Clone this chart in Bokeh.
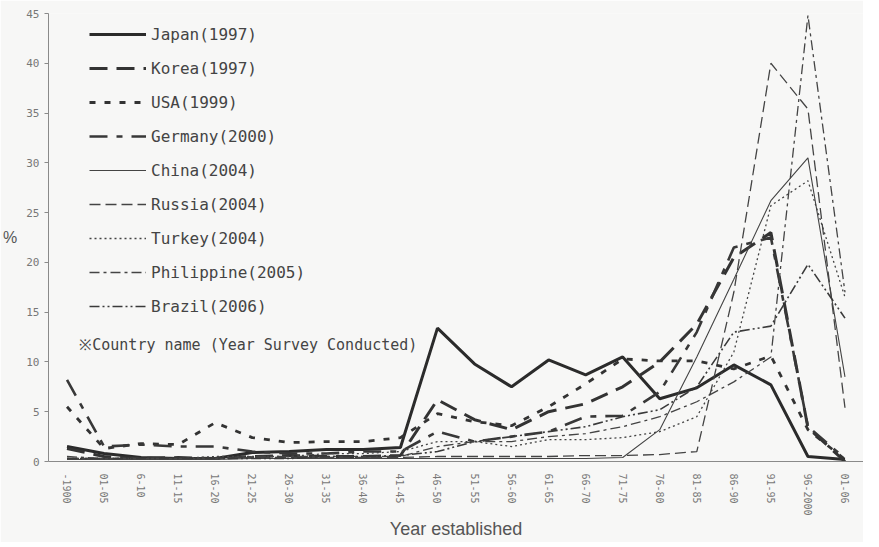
import math
from bokeh.plotting import figure
from bokeh.models import Range1d, Legend, LegendItem, Label
from bokeh.embed import file_html
from bokeh.resources import INLINE

categories = ["-1900", "01-05", "6-10", "11-15", "16-20", "21-25", "26-30", "31-35",
              "36-40", "41-45", "46-50", "51-55", "56-60", "61-65", "66-70", "71-75",
              "76-80", "81-85", "86-90", "91-95", "96-2000", "01-06"]

japan =      [1.5, 0.8, 0.4, 0.3, 0.3, 0.9, 1.0, 1.2, 1.2, 1.4, 13.4, 9.8, 7.5, 10.2, 8.7, 10.5, 6.3, 7.4, 9.7, 7.7, 0.5, 0.2]
korea =      [1.3, 0.5, 0.3, 0.4, 0.3, 0.5, 0.6, 0.5, 0.5, 0.6, 6.2, 4.2, 3.2, 5.0, 5.8, 7.5, 10.0, 13.8, 20.5, 23.0, 3.4, 0.0]
usa =        [5.5, 1.3, 1.8, 1.7, 3.9, 2.4, 1.9, 2.0, 2.0, 2.4, 4.8, 4.0, 3.6, 5.5, 7.8, 10.3, 10.1, 10.1, 9.3, 10.6, 3.2, 0.2]
germany =    [8.2, 1.5, 1.7, 1.5, 1.5, 1.0, 0.8, 0.8, 1.0, 1.0, 3.0, 2.0, 2.5, 3.0, 4.5, 4.6, 7.0, 13.0, 21.5, 22.5, 3.5, 0.3]
china =      [0.2, 0.2, 0.2, 0.2, 0.2, 0.3, 0.3, 0.3, 0.3, 0.3, 0.3, 0.3, 0.3, 0.3, 0.3, 0.4, 3.2, 10.5, 18.3, 26.2, 30.5, 8.5]
russia =     [0.3, 0.3, 0.3, 0.3, 0.3, 0.4, 0.4, 0.4, 0.4, 0.4, 0.5, 0.5, 0.5, 0.5, 0.6, 0.6, 0.7, 1.0, 17.0, 40.0, 35.4, 5.4]
turkey =     [0.3, 0.3, 0.3, 0.3, 0.5, 0.5, 0.5, 0.8, 0.8, 1.0, 2.0, 2.0, 1.5, 2.2, 2.2, 2.4, 3.0, 4.5, 11.0, 25.7, 28.2, 16.5]
philippine = [0.5, 0.3, 0.3, 0.3, 0.3, 0.5, 0.5, 0.5, 0.5, 0.5, 1.5, 2.0, 2.0, 2.5, 2.8, 3.5, 4.5, 6.0, 8.0, 10.5, 44.8, 17.0]
brazil =     [0.3, 0.3, 0.3, 0.3, 0.3, 0.3, 0.3, 0.5, 0.5, 0.6, 1.0, 2.0, 2.5, 3.0, 3.5, 4.5, 5.2, 7.5, 13.0, 13.6, 19.8, 14.4]

series_names = ["Japan(1997)", "Korea(1997)", "USA(1999)", "Germany(2000)", "China(2004)",
                "Russia(2004)", "Turkey(2004)", "Philippine(2005)", "Brazil(2006)"]
series_values = [japan, korea, usa, germany, china, russia, turkey, philippine, brazil]

styles = [
    dict(line_width=3.0, line_dash="solid", line_color="#2b2b2b"),
    dict(line_width=3.0, line_dash="18 9", line_color="#333333"),
    dict(line_width=2.8, line_dash="6 9", line_color="#333333"),
    dict(line_width=2.6, line_dash="18 9 6 9", line_color="#383838"),
    dict(line_width=1.1, line_dash="solid", line_color="#444444"),
    dict(line_width=1.3, line_dash="11 5", line_color="#444444"),
    dict(line_width=1.3, line_dash="2 3", line_color="#444444"),
    dict(line_width=1.3, line_dash="10 4 3 4", line_color="#444444"),
    dict(line_width=1.6, line_dash="10 3 2 3 2 3", line_color="#3a3a3a"),
]

mono = "DejaVu Sans Mono"
sans = "Liberation Sans"
bg = "#f7f7f6"

p = figure(x_range=categories, y_range=Range1d(0, 45), width=863, height=542,
           output_backend="svg", toolbar_location=None,
           min_border_left=39, min_border_top=13, min_border_bottom=81, min_border_right=0)
p.background_fill_color = bg
p.border_fill_color = bg
p.outline_line_color = None
p.xgrid.grid_line_color = None
p.ygrid.grid_line_color = None
p.x_range.range_padding = 0

items = []
for name, vals, st in zip(series_names, series_values, styles):
    r = p.line(categories, vals, **st)
    items.append(LegendItem(label=name, renderers=[r]))

legend = Legend(items=items, location=(41, 145), orientation="vertical")
legend.background_fill_alpha = 0
legend.border_line_color = None
legend.padding = 0
legend.margin = 0
legend.glyph_width = 57
legend.glyph_height = 20
legend.label_height = 20
legend.spacing = 14
legend.label_text_font = mono
legend.label_text_font_size = "16px"
legend.label_text_color = "#444444"
legend.label_standoff = 5
p.add_layout(legend)

note = Label(x=0.83, y=11.75, text="※Country name (Year Survey Conducted)",
             text_font=mono, text_font_size="15px", text_color="#444444",
             text_baseline="middle")
p.add_layout(note)

# y axis
p.yaxis.ticker = [0, 5, 10, 15, 20, 25, 30, 35, 40, 45]
p.yaxis.axis_label = "%"
p.yaxis.axis_label_orientation = "horizontal"
p.yaxis.axis_label_text_font = sans
p.yaxis.axis_label_text_font_size = "16px"
p.yaxis.axis_label_text_font_style = "normal"
p.yaxis.axis_label_text_color = "#555555"
p.yaxis.axis_label_standoff = 6
p.yaxis.major_label_text_font = mono
p.yaxis.major_label_text_font_size = "11px"
p.yaxis.major_label_text_color = "#777777"
p.yaxis.axis_line_color = "#8a8a8a"
p.yaxis.major_tick_line_color = "#8a8a8a"
p.yaxis.major_tick_out = 4
p.yaxis.major_tick_in = 0
p.yaxis.minor_tick_line_color = None
p.yaxis.major_label_standoff = 5

# x axis
p.xaxis.axis_label = "Year established"
p.xaxis.axis_label_text_font = sans
p.xaxis.axis_label_text_font_size = "18px"
p.xaxis.axis_label_text_font_style = "normal"
p.xaxis.axis_label_text_color = "#555555"
p.xaxis.axis_label_standoff = 0
p.xaxis.major_label_orientation = -math.pi / 2
p.xaxis.major_label_text_font = mono
p.xaxis.major_label_text_font_size = "10px"
p.xaxis.major_label_text_color = "#777777"
p.xaxis.axis_line_color = "#8a8a8a"
p.xaxis.major_tick_line_color = None
p.xaxis.minor_tick_line_color = None
p.xaxis.major_label_standoff = 6

open("out.html", "w").write(file_html(p, INLINE))
